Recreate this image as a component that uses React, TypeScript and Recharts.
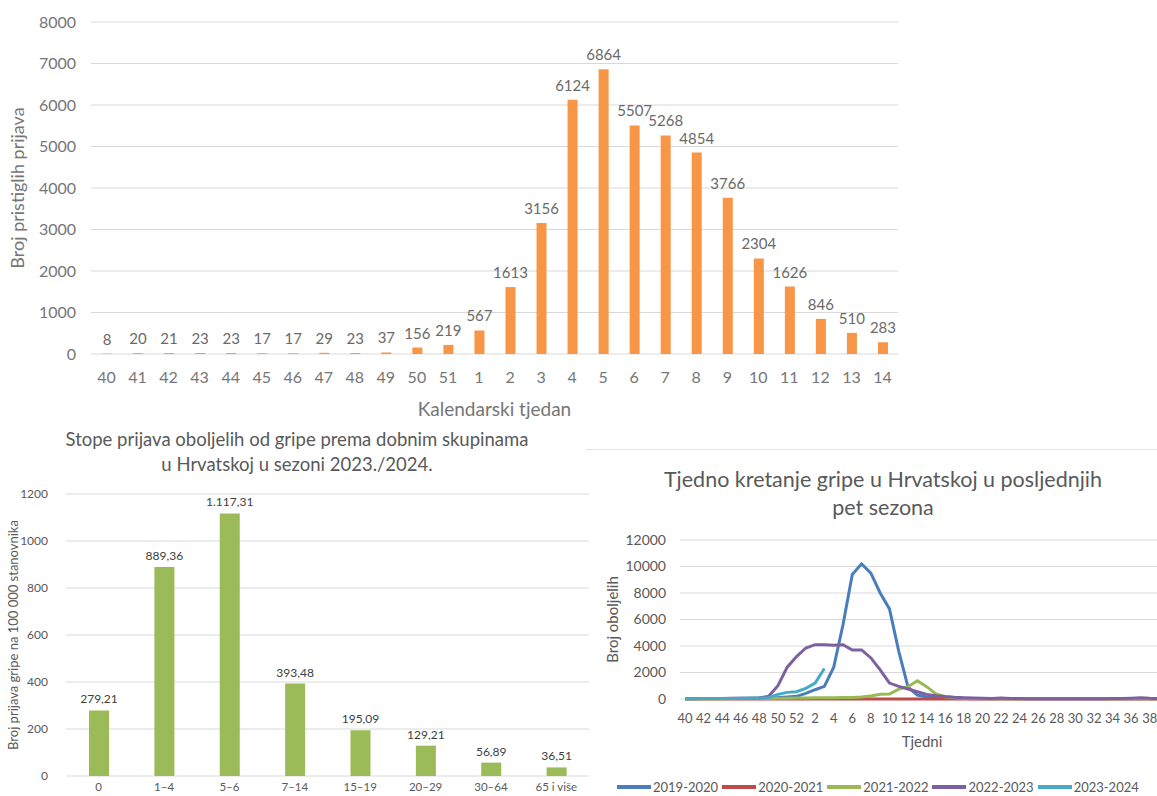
import { Bar, BarChart, CartesianGrid, LabelList, Legend, Line, LineChart, XAxis, YAxis } from "recharts"

const FONT = "Lato, 'Open Sans', sans-serif"
const GRID = "#d9d9d9"

// gornji graf: prijave po kalendarskim tjednima
const weeks = ["40", "41", "42", "43", "44", "45", "46", "47", "48", "49", "50", "51", "1", "2", "3", "4", "5", "6", "7", "8", "9", "10", "11", "12", "13", "14"]
const reports = [8, 20, 21, 23, 23, 17, 17, 29, 23, 37, 156, 219, 567, 1613, 3156, 6124, 6864, 5507, 5268, 4854, 3766, 2304, 1626, 846, 510, 283]
const reportTicks = [0, 1000, 2000, 3000, 4000, 5000, 6000, 7000, 8000]

// donji lijevi: stope po dobnim skupinama
const ageGroups = ["0", "1–4", "5–6", "7–14", "15–19", "20–29", "30–64", "65 i više"]
const rates = [279.21, 889.36, 1117.31, 393.48, 195.09, 129.21, 56.89, 36.51]
const rateTicks = [0, 200, 400, 600, 800, 1000, 1200]

// donji desni: pet sezona
const seasonWeeks = [
  "40", "41", "42", "43", "44", "45", "46", "47", "48", "49", "50", "51", "52",
  "1", "2", "3", "4", "5", "6", "7", "8", "9", "10", "11", "12", "13", "14", "15", "16", "17", "18", "19", "20",
  "21", "22", "23", "24", "25", "26", "27", "28", "29", "30", "31", "32", "33", "34", "35", "36", "37", "38", "39",
]
const s2019 = [
  20, 25, 30, 30, 40, 40, 50, 60, 70, 90, 110, 150, 200,
  420, 700, 950, 2400, 5600, 9400, 10200, 9500, 8000, 6800, 3600, 900, 300, 150, 90, 60, 40, 30, 20, 20,
  15, 10, 10, 10, 10, 10, 10, 10, 10, 10, 10, 10, 10, 10, 10, 10, 10, 10, 10,
]
const s2020 = [
  5, 5, 5, 5, 5, 5, 5, 5, 5, 5, 5, 5, 5,
  5, 5, 5, 5, 5, 5, 5, 5, 5, 5, 5, 5, 5, 5, 5, 5, 5, 5, 5, 5,
  5, 5, 5, 5, 5, 5, 5, 5, 5, 5, 5, 5, 5, 5, 5, 5, 5, 5, 5,
]
const s2021 = [
  20, 20, 20, 25, 25, 30, 30, 30, 35, 40, 50, 60, 70,
  80, 90, 100, 100, 110, 120, 150, 230, 350, 380, 750, 930, 1380, 930, 380, 170, 100, 60, 40, 30,
  20, 20, 15, 15, 10, 10, 10, 10, 10, 10, 10, 10, 10, 10, 10, 10, 10, 10, 10,
]
const s2022 = [
  30, 30, 40, 40, 40, 50, 50, 60, 80, 200, 1000, 2400, 3200,
  3850, 4100, 4100, 4050, 4100, 3700, 3700, 3100, 2200, 1200, 950, 750, 550, 350, 250, 180, 130, 100, 70, 50,
  40, 70, 40, 30, 20, 20, 20, 20, 20, 20, 20, 20, 20, 30, 40, 60, 90, 50, 30,
]
const s2023 = [
  20, 20, 30, 30, 30, 40, 40, 50, 60, 100, 350, 500, 550,
  800, 1200, 2300, null, null, null, null, null, null, null, null, null, null, null, null, null, null, null, null, null,
  null, null, null, null, null, null, null, null, null, null, null, null, null, null, null, null, null, null, null,
]
const caseTicks = [0, 2000, 4000, 6000, 8000, 10000, 12000]

const seasons = [
  { key: "s2019", name: "2019-2020", color: "#4a7ebb", values: s2019 },
  { key: "s2020", name: "2020-2021", color: "#be4b48", values: s2020 },
  { key: "s2021", name: "2021-2022", color: "#98b954", values: s2021 },
  { key: "s2022", name: "2022-2023", color: "#7d60a0", values: s2022 },
  { key: "s2023", name: "2023-2024", color: "#46aac5", values: s2023 },
]

function hrNumber(v: any) {
  const [i, d] = Number(v).toFixed(2).split(".")
  return i.replace(/\B(?=(\d{3})+(?!\d))/g, ".") + "," + d
}

function WeeklyReports() {
  const data = weeks.map((w, i) => ({ week: w, value: reports[i] }))
  const txt = { fill: "#767676", fontSize: 16, fontFamily: FONT }
  return (
    <BarChart width={910} height={425} data={data} margin={{ top: 22, right: 12, left: 0, bottom: 9 }}>
      <CartesianGrid vertical={false} stroke={GRID} />
      <XAxis
        dataKey="week"
        height={62}
        interval={0}
        axisLine={false}
        tickLine={false}
        tickMargin={12}
        tick={txt}
        label={{ value: "Kalendarski tjedan", position: "insideBottom", offset: 0, ...txt, fontSize: 19 }}
      />
      <YAxis
        width={91}
        domain={[0, 8000]}
        ticks={reportTicks}
        axisLine={false}
        tickLine={false}
        tickMargin={9}
        tick={txt}
        label={{ value: "Broj pristiglih prijava", angle: -90, position: "insideLeft", offset: 18, style: { textAnchor: "middle" }, ...txt, fontSize: 18 }}
      />
      <Bar dataKey="value" fill="#f79646" barSize={10} isAnimationActive={false}>
        <LabelList dataKey="value" position="top" offset={9} fill="#6a6a6a" fontSize={15} fontFamily={FONT} />
      </Bar>
    </BarChart>
  )
}

function AgeRates() {
  const data = ageGroups.map((g, i) => ({ group: g, rate: rates[i] }))
  const txt = { fill: "#595959", fontSize: 12, fontFamily: FONT }
  return (
    <BarChart width={600} height={340} data={data} margin={{ top: 24, right: 11, left: 0, bottom: 4 }}>
      <CartesianGrid vertical={false} stroke={GRID} />
      <XAxis dataKey="group" height={30} interval={0} axisLine={false} tickLine={false} tickMargin={1} tick={{ ...txt, fontSize: 11.5 }} />
      <YAxis
        width={66}
        domain={[0, 1200]}
        ticks={rateTicks}
        axisLine={false}
        tickLine={false}
        tickMargin={12}
        tick={txt}
        label={{ value: "Broj prijava gripe na 100 000 stanovnika", angle: -90, position: "insideLeft", offset: 13, style: { textAnchor: "middle" }, ...txt, fontSize: 13 }}
      />
      <Bar dataKey="rate" fill="#9bbb59" barSize={20} isAnimationActive={false}>
        <LabelList dataKey="rate" position="top" offset={7} formatter={hrNumber} fill="#404040" fontSize={12} fontFamily={FONT} />
      </Bar>
    </BarChart>
  )
}

function SeasonLegend() {
  return (
    <div style={{ display: "flex", gap: 4, fontFamily: FONT, fontSize: 13, color: "#595959", lineHeight: "20px", whiteSpace: "nowrap" }}>
      {seasons.map((s) => (
        <div key={s.key} style={{ display: "flex", alignItems: "center", flexShrink: 0 }}>
          <span style={{ display: "inline-block", width: 34, height: 4, background: s.color, marginRight: 2 }} />
          <span>{s.name}</span>
        </div>
      ))}
    </div>
  )
}

function FiveSeasons() {
  const data = seasonWeeks.map((w, i) => {
    const row: any = { week: w }
    seasons.forEach((s) => (row[s.key] = s.values[i]))
    return row
  })
  const txt = { fill: "#595959", fontSize: 14, fontFamily: FONT }
  return (
    <LineChart width={590} height={290} data={data} margin={{ top: 20, right: 12, left: 0, bottom: 41 }}>
      <CartesianGrid vertical={false} stroke={GRID} />
      <XAxis
        dataKey="week"
        height={50}
        interval={1}
        padding={{ left: 5, right: 5 }}
        axisLine={false}
        tickLine={false}
        tickMargin={9}
        tick={{ ...txt, fontSize: 13 }}
        label={{ value: "Tjedni", position: "insideBottom", offset: 2, ...txt, fontSize: 15 }}
      />
      <YAxis
        width={94}
        domain={[0, 12000]}
        ticks={caseTicks}
        axisLine={false}
        tickLine={false}
        tickMargin={8}
        tick={txt}
        label={{ value: "Broj oboljelih", angle: -90, position: "insideLeft", offset: 27, style: { textAnchor: "middle" }, ...txt, fontSize: 15 }}
      />
      {seasons.map((s) => (
        <Line key={s.key} dataKey={s.key} name={s.name} stroke={s.color} strokeWidth={3} dot={false} isAnimationActive={false} />
      ))}
      <Legend content={() => <SeasonLegend />} verticalAlign="bottom" wrapperStyle={{ top: 257, bottom: "auto", left: 31, width: 600 }} />
    </LineChart>
  )
}

export default function App() {
  return (
    <div style={{ position: "fixed", top: 0, left: 0, width: 1157, height: 796, overflow: "hidden", background: "#fff" }}>
      <div style={{ position: "absolute", left: 0, top: 0 }}>
        <WeeklyReports />
      </div>

      <div style={{ position: "absolute", left: 0, top: 427, width: 594, textAlign: "center", fontFamily: FONT, fontSize: 18.5, lineHeight: "25px", color: "#595959" }}>
        Stope prijava oboljelih od gripe prema dobnim skupinama
        <br />u Hrvatskoj u sezoni 2023./2024.
      </div>
      <div style={{ position: "absolute", left: 0, top: 470 }}>
        <AgeRates />
      </div>

      <div style={{ position: "absolute", left: 586, top: 449, width: 571, borderTop: "1px solid #e3e3e3" }} />
      <div style={{ position: "absolute", left: 586, top: 465, width: 594, textAlign: "center", fontFamily: FONT, fontSize: 21.5, lineHeight: "28px", color: "#595959" }}>
        Tjedno kretanje gripe u Hrvatskoj u posljednjih
        <br />pet sezona
      </div>
      <div style={{ position: "absolute", left: 586, top: 520 }}>
        <FiveSeasons />
      </div>
    </div>
  )
}
